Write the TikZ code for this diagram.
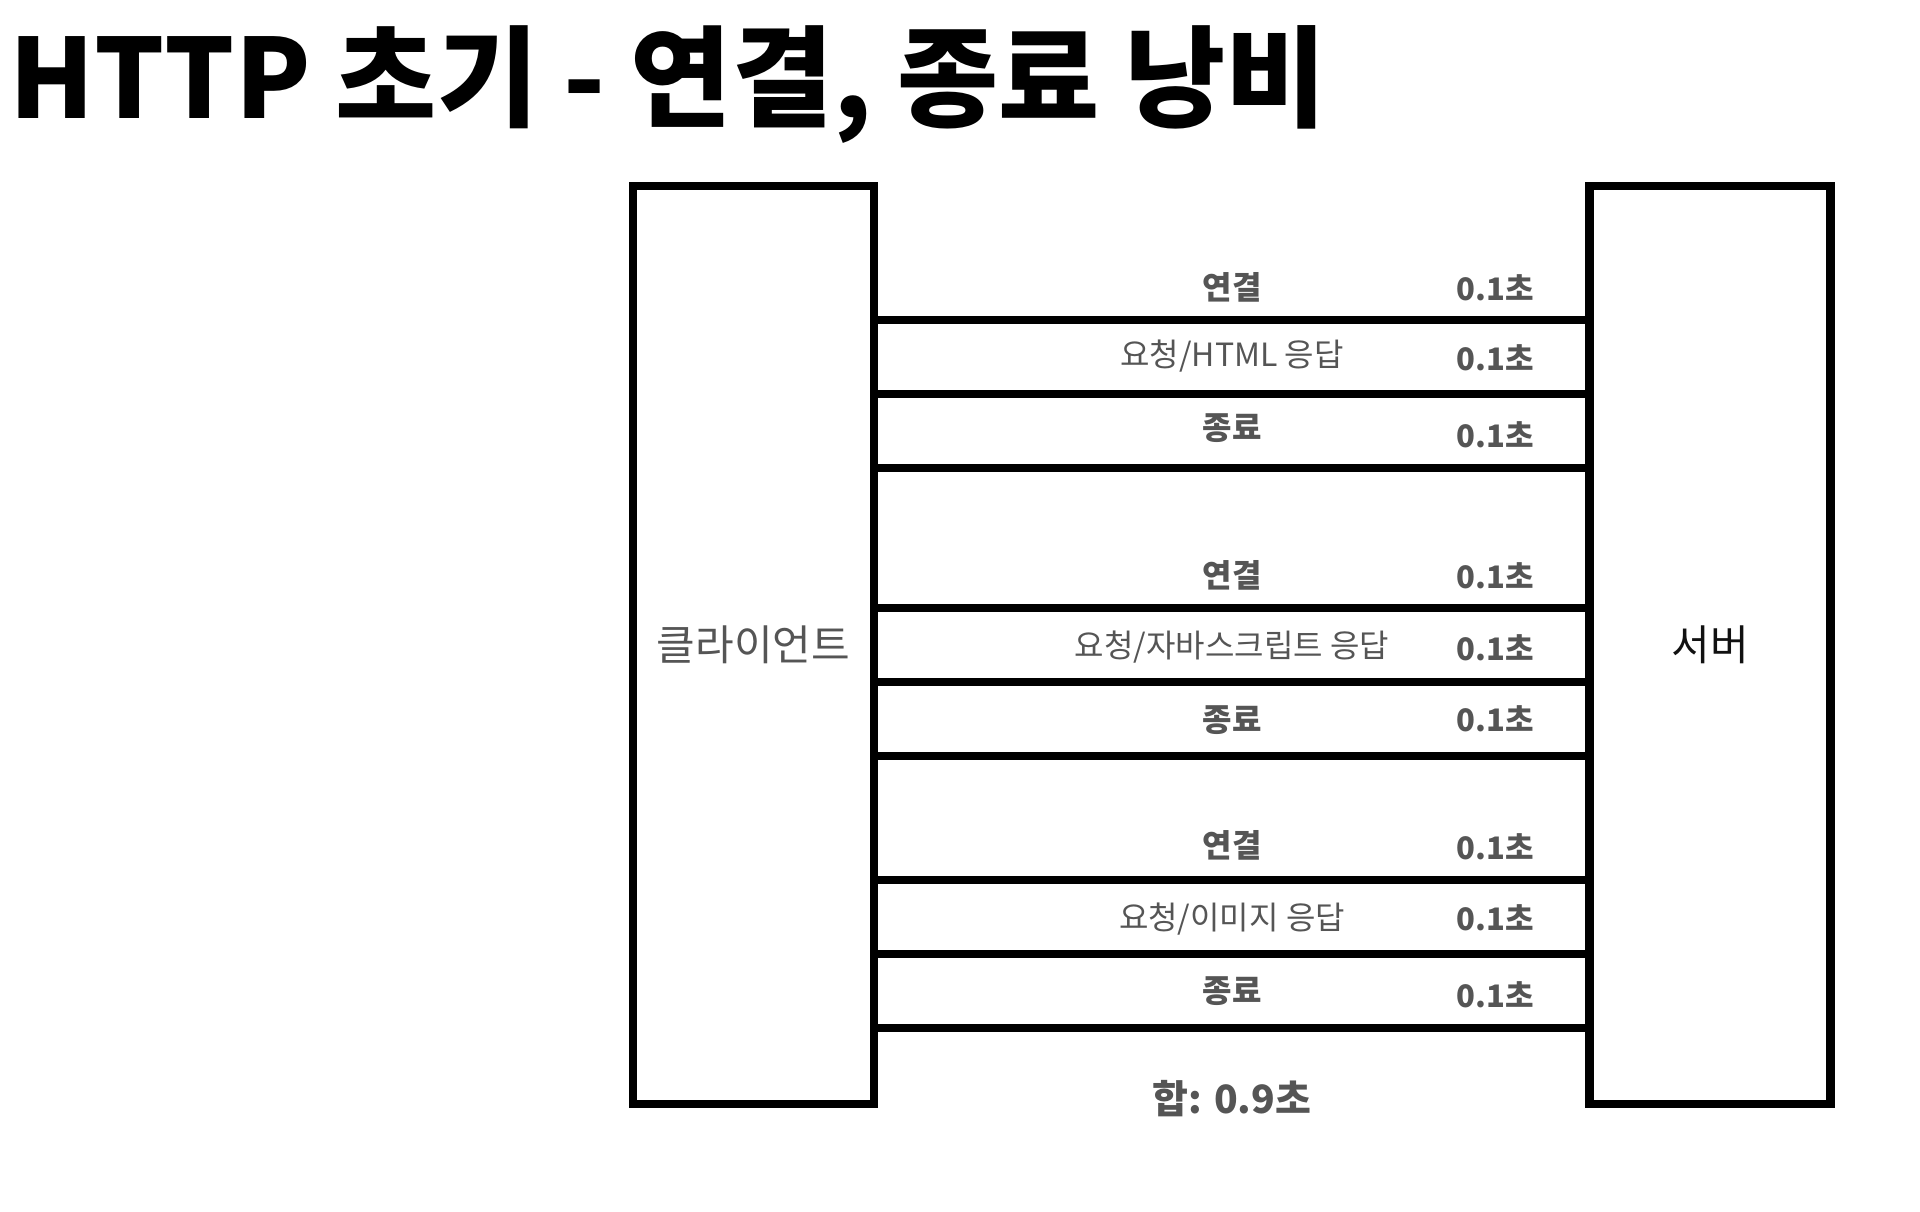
\documentclass[tikz,border=0pt]{standalone}
\usepackage{fontspec}
\setmainfont{Noto Sans CJK KR}

\definecolor{labelgray}{HTML}{555555}
\definecolor{inkblack}{HTML}{111111}

\begin{document}
\begin{tikzpicture}[x=1pt,y=-1pt,
    every node/.style={inner sep=0pt, text=labelgray},
    host/.style={draw=black, line width=8.5pt, minimum width=241pt, minimum height=918pt,
        font=\fontsize{42}{50}\selectfont},
    bar/.style={line width=8.5pt},
    stage/.style={font=\fontsize{32}{38}\selectfont\bfseries},
    msg/.style={font=\fontsize{32}{38}\selectfont},
    took/.style={font=\fontsize{31}{37}\selectfont\bfseries}]
    \useasboundingbox (0,0) rectangle (1920,1212);

    % Title
    \node[anchor=base west, text=black, font=\fontsize{110}{120}\selectfont\bfseries] (title) at (9,119) {HTTP 초기 - 연결, 종료 낭비};

    % Client and server
    \node[host] (client) at (753.5,645) {클라이언트};
    \node[host, text=inkblack] (server) at (1710,645) {서버};

    % One bar per step, client to server
    \foreach \y in {320,394,468,608,682,756,880,954,1028} {
        \draw[bar] (client.east |- 0,\y) -- (server.west |- 0,\y);
    }

    % Step labels and their times
    \foreach \ly/\lst/\ltxt/\sy [count=\i] in {
        287/stage/연결/288,
        356/msg/{요청/HTML 응답}/358,
        428/stage/종료/435,
        575/stage/연결/576,
        647/msg/{요청/자바스크립트 응답}/648,
        720/stage/종료/719,
        845/stage/연결/847,
        919/msg/{요청/이미지 응답}/918,
        991/stage/종료/995} {
        \node[\lst] (step\i) at (1232,\ly) {\ltxt};
        \node[took] (time\i) at (1495,\sy) {0.1초};
    }

    % Sum
    \node[font=\fontsize{39}{47}\selectfont\bfseries] (total) at (1232,1099) {합: 0.9초};
\end{tikzpicture}
\end{document}
